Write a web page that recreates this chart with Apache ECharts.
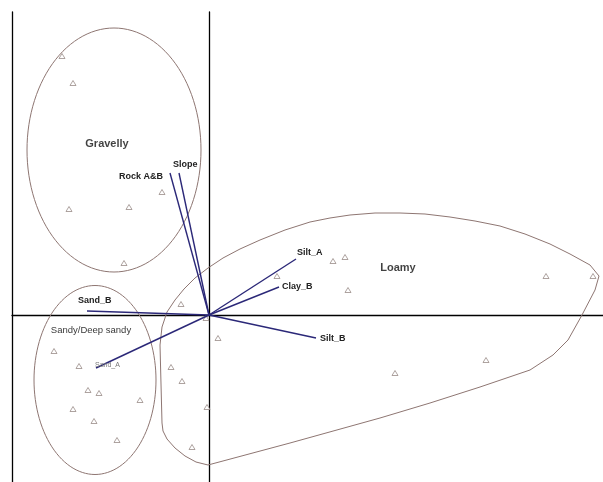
<!DOCTYPE html>
<html>
<head>
<meta charset="utf-8">
<script src="https://cdn.jsdelivr.net/npm/echarts@6/dist/echarts.min.js"></script>
<style>
  html, body { margin: 0; padding: 0; background: #fff; }
  #chart { width: 603px; height: 482px; }
</style>
</head>
<body>
<div id="chart"></div>
<script>
// sample scores (axis 1, axis 2)
var siteX = [-1.47, -1.36, -0.47, -1.40, -0.80, -0.85,
             -1.55, -1.30, -1.21, -1.10, -0.69, -1.36, -1.15, -0.92,
             1.24, 1.36, 0.68, 1.39, -0.28, 0.09, -0.03, -0.38, -0.27, -0.02, -0.17, 3.37, 3.84, 2.77, 1.86];
var siteY = [2.59, 2.32, 1.23, 1.06, 1.08, 0.52,
             -0.36, -0.51, -0.75, -0.78, -0.85, -0.94, -1.06, -1.25,
             0.54, 0.58, 0.39, 0.25, 0.11, -0.23, -0.03, -0.52, -0.66, -0.92, -1.32, 0.39, 0.39, -0.45, -0.58];

// environmental vectors
var vecNames = ['Rock A&B', 'Slope', 'Silt_A', 'Clay_B', 'Silt_B', 'Sand_B', 'Sand_A'];
var vecX = [-0.39, -0.30, 0.87, 0.70, 1.07, -1.22, -1.13];
var vecY = [1.42, 1.42, 0.56, 0.28, -0.23, 0.04, -0.53];

// group ellipses: centre x, centre y, radius x, radius y
var ellipseNames = ['Gravelly', 'Sandy/Deep sandy'];
var ellipseCx = [-0.95, -1.14];
var ellipseCy = [1.65, -0.65];
var ellipseRx = [0.87, 0.61];
var ellipseRy = [1.22, 0.945];

// Loamy group outline
var hullX = [-0.47, -0.49, -0.47, -0.42, -0.34, -0.25, -0.14, -0.01, 0.14, 0.31, 0.51, 0.76, 1.01, 1.21, 1.41, 1.66,
             1.91, 2.16, 2.41, 2.66, 2.91, 3.16, 3.41, 3.61, 3.81, 3.90,
             3.86, 3.73, 3.59, 3.44, 3.21, 2.71, 2.21, 1.71, 0.81, -0.01, -0.13, -0.24, -0.34, -0.42, -0.46];
var hullY = [-1.08, -0.30, -0.12, 0.03, 0.15, 0.26, 0.37, 0.47, 0.57, 0.66, 0.75, 0.85, 0.93, 0.97, 1.00, 1.02,
             1.02, 1.01, 0.98, 0.94, 0.89, 0.81, 0.71, 0.61, 0.50, 0.39,
             0.25, 0.00, -0.25, -0.40, -0.55, -0.72, -0.88, -1.03, -1.28, -1.50, -1.47, -1.41, -1.33, -1.24, -1.16];

// group names
var groupNames = ['Gravelly', 'Loamy', 'Sandy/Deep sandy'];
var groupX = [-1.02, 1.89, -1.18];
var groupY = [1.71, 0.47, -0.15];

// label placement (px offset from vector tip, alignment)
var vecLabelStyle = {
    'Rock A&B': { dx: -7, dy: 4, align: 'right' },
    'Slope': { dx: -6, dy: -8, align: 'left' },
    'Silt_A': { dx: 1, dy: -6, align: 'left' },
    'Clay_B': { dx: 3, dy: 0, align: 'left' },
    'Silt_B': { dx: 4, dy: 1, align: 'left' },
    'Sand_B': { dx: -9, dy: -10, align: 'left' },
    'Sand_A': { dx: -1, dy: -3, align: 'left' }
};

var chart = echarts.init(document.getElementById('chart'));

var sites = [];
for (var i = 0; i < siteX.length; i++) {
    sites.push([siteX[i], siteY[i]]);
}
var vectors = [];
for (var j = 0; j < vecNames.length; j++) {
    vectors.push([vecX[j], vecY[j], vecNames[j]]);
}
var ellipses = [];
for (var k = 0; k < ellipseNames.length; k++) {
    ellipses.push([ellipseCx[k], ellipseCy[k], ellipseRx[k], ellipseRy[k]]);
}
var hull = [];
for (var h = 0; h < hullX.length; h++) {
    hull.push([hullX[h], hullY[h]]);
}
hull.push([hullX[0], hullY[0]]);
var groups = [];
for (var g = 0; g < groupNames.length; g++) {
    groups.push({ value: [groupX[g], groupY[g]], name: groupNames[g] });
}

var fontFam = '"Liberation Sans", Arial, sans-serif';
var outlineColor = '#8e7672';
var vecColor = '#2b2878';

var option = {
    animation: false,
    backgroundColor: '#fff',
    grid: { left: 12, right: 0, top: 12, bottom: 0 },
    xAxis: {
        type: 'value', min: -1.97, max: 3.94,
        axisLine: { show: true, onZero: true, lineStyle: { color: '#000', width: 1.3 } },
        axisTick: { show: false }, axisLabel: { show: false }, splitLine: { show: false }
    },
    yAxis: [{
        type: 'value', min: -1.67, max: 3.03,
        axisLine: { show: true, onZero: true, lineStyle: { color: '#000', width: 1.3 } },
        axisTick: { show: false }, axisLabel: { show: false }, splitLine: { show: false }
    }, {
        type: 'value', min: -1.67, max: 3.03, position: 'left',
        axisLine: { show: true, onZero: false, lineStyle: { color: '#000', width: 1.3 } },
        axisTick: { show: false }, axisLabel: { show: false }, splitLine: { show: false }
    }],
    series: [
        {
            // group ellipses
            type: 'custom',
            silent: true,
            data: ellipses,
            renderItem: function (params, api) {
                var c = api.coord([api.value(0), api.value(1)]);
                var s = api.size([api.value(2), api.value(3)]);
                var pts = [];
                for (var t = 0; t < 120; t++) {
                    var a = t / 120 * Math.PI * 2;
                    pts.push([c[0] + s[0] * Math.cos(a), c[1] + s[1] * Math.sin(a)]);
                }
                return {
                    type: 'polygon',
                    shape: { points: pts },
                    style: { fill: 'none', stroke: outlineColor, lineWidth: 1 }
                };
            },
            z: 1
        },
        {
            // Loamy outline
            type: 'line',
            data: hull,
            symbol: 'none',
            smooth: false,
            lineStyle: { color: outlineColor, width: 1 },
            silent: true,
            z: 1
        },
        {
            type: 'scatter',
            data: sites,
            symbol: 'triangle',
            symbolSize: [6, 5],
            itemStyle: { color: '#fff', borderColor: '#8f7f7c', borderWidth: 0.9 },
            z: 3
        },
        {
            // environmental vectors
            type: 'custom',
            data: vectors,
            renderItem: function (params, api) {
                var o = api.coord([0, 0]);
                var p = api.coord([api.value(0), api.value(1)]);
                var name = vectors[params.dataIndex][2];
                var ls = vecLabelStyle[name];
                var small = name === 'Sand_A';
                return {
                    type: 'group',
                    children: [{
                        type: 'line',
                        shape: { x1: o[0], y1: o[1], x2: p[0], y2: p[1] },
                        style: { stroke: vecColor, lineWidth: 1.4 }
                    }, {
                        type: 'text',
                        x: p[0] + ls.dx,
                        y: p[1] + ls.dy,
                        style: {
                            text: name,
                            fill: small ? '#777' : '#222',
                            font: (small ? 'normal 7px ' : 'bold 9px ') + fontFam,
                            align: ls.align,
                            verticalAlign: 'middle'
                        }
                    }]
                };
            },
            z: 4
        },
        {
            // group names
            type: 'scatter',
            data: groups,
            symbolSize: 0,
            silent: true,
            label: {
                show: true,
                position: 'inside',
                formatter: function (p) { return p.name; },
                color: '#111',
                fontFamily: fontFam,
                fontWeight: 'bold',
                fontSize: 11
            },
            z: 5
        }
    ]
};

// Sandy/Deep sandy is set in smaller type
option.series[4].data[2].label = { fontSize: 9.5, fontWeight: 'normal', color: '#000' };

chart.setOption(option);
</script>
</body>
</html>
